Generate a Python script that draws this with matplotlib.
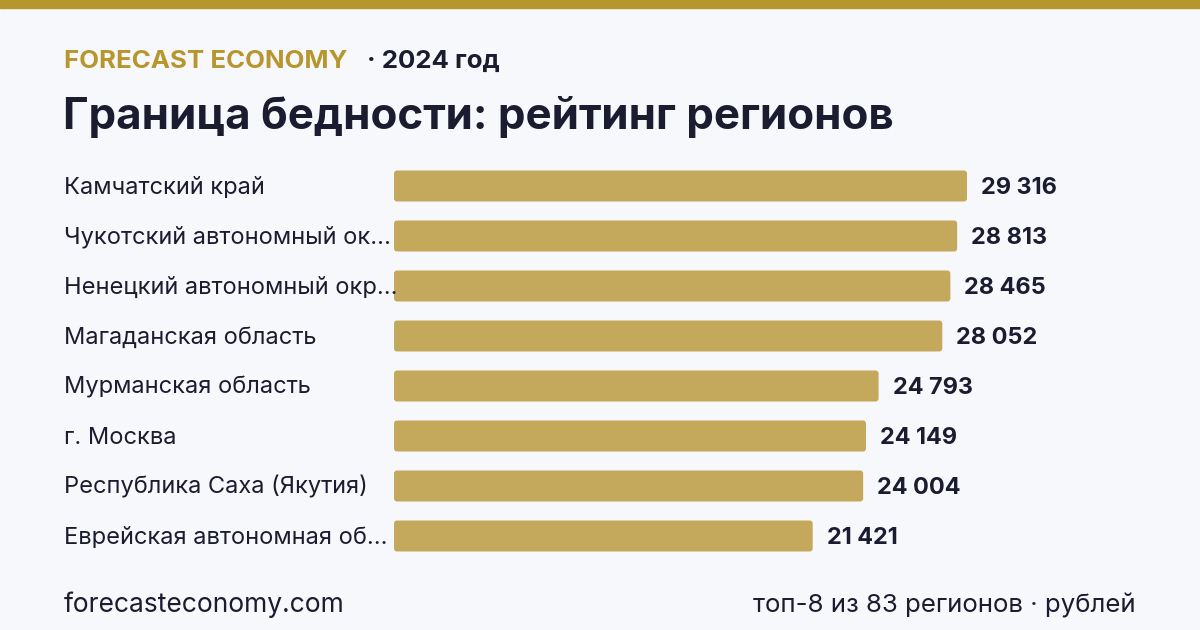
import matplotlib.pyplot as plt
from matplotlib.patches import FancyBboxPatch
from matplotlib.transforms import blended_transform_factory

regions = ["Камчатский край", "Чукотский автономный ок...", "Ненецкий автономный окр...",
           "Магаданская область", "Мурманская область", "г. Москва",
           "Республика Саха (Якутия)", "Еврейская автономная об..."]
values = [29316, 28813, 28465, 28052, 24793, 24149, 24004, 21421]

W, H = 1200, 630
bg = "#f7f8fc"
gold = "#b8962e"
bar_c = "#c4a95c"
dark = "#1c1c30"

plt.rcParams['font.family'] = ['Inter', 'DejaVu Sans']

fig = plt.figure(figsize=(12, 6.3), dpi=100, facecolor=bg)

def fx(px):
    return px / W

def fy(py):
    return 1 - py / H

# top band
fig.patches.append(plt.Rectangle((0, fy(8)), 1, 8 / H, transform=fig.transFigure,
                                 color=gold, zorder=5))

fig.text(fx(64), fy(61), "FORECAST ECONOMY", color=gold, fontsize=18.6, fontweight='bold',
         va='center', ha='left')
fig.text(fx(367), fy(61), "· 2024 год", color=dark, fontsize=18.6, fontweight='bold',
         va='center', ha='left')
fig.text(fx(63), fy(117), "Граница бедности: рейтинг регионов", color=dark, fontsize=31.6,
         fontweight='bold', va='center', ha='left')

# bars: axes spans x 394..1136 px, rows 161..561 px
left, right = 394, 1136
ax = fig.add_axes([fx(left), fy(561), (right - left) / W, 400 / H])
ax.set_facecolor('none')
scale = (967 - 394) / values[0]
ax.set_xlim(0, (right - left) / scale)
ax.set_ylim(len(values) - 0.5, -0.5)
ypos = list(range(len(values)))
bh = 0.62
px_x = 1 / scale   # data units per pixel along x
px_y = 1 / 50      # data units per pixel along y
for y, v in zip(ypos, values):
    ax.add_patch(FancyBboxPatch((0, y - bh / 2), v, bh,
                                boxstyle=f"round,pad=0,rounding_size={3 * px_x}",
                                mutation_aspect=px_y / px_x, color=bar_c, lw=0))
    ax.text(v + 14 / scale, y + 0.03, f"{v:,}".replace(",", " "), va='center', ha='left',
            fontsize=16.9, fontweight='bold', color=dark)

trans = blended_transform_factory(fig.transFigure, ax.transData)
for y, name in zip(ypos, regions):
    ax.text(fx(64), y + 0.03, name, transform=trans, va='center', ha='left', fontsize=17,
            color=dark)

ax.axis('off')

fig.text(fx(64), fy(605), "forecasteconomy.com", color=dark, fontsize=19, va='center', ha='left')
fig.text(fx(1136), fy(605), "топ-8 из 83 регионов · рублей", color=dark, fontsize=18.6,
         va='center', ha='right')

fig.savefig("out.png", dpi=100, facecolor=bg)
